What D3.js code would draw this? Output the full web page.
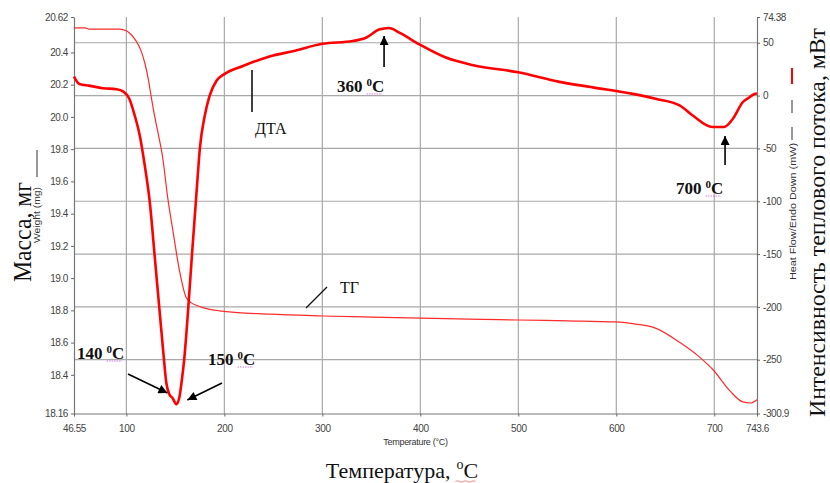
<!DOCTYPE html>
<html><head><meta charset="utf-8">
<script src="https://cdn.jsdelivr.net/npm/d3@7"></script>
<style>body{margin:0;background:#fff}svg{display:block}</style>
</head><body>
<svg id="c" width="830" height="483"></svg>
<script>
// ---- data ----
const tempTicks = [46.55, 100, 200, 300, 400, 500, 600, 700, 743.6];
const tempLabels = ["46.55", "100", "200", "300", "400", "500", "600", "700", "743.6"];
const weightTicks = [18.16, 18.4, 18.6, 18.8, 19.0, 19.2, 19.4, 19.6, 19.8, 20.0, 20.2, 20.4, 20.62];
const weightLabels = ["18.16", "18.4", "18.6", "18.8", "19.0", "19.2", "19.4", "19.6", "19.8", "20.0", "20.2", "20.4", "20.62"];
const heatTicks = [-300.9, -250, -200, -150, -100, -50, 0, 50, 74.38];
const heatLabels = ["-300.9", "-250", "-200", "-150", "-100", "-50", "0", "50", "74.38"];
const gridTemps = [100, 200, 300, 400, 500, 600, 700];
const gridHeats = [-250, -200, -150, -100, -50, 0, 50];

// TG (weight, mg)
const tgTemp =   [46.55, 58, 62, 93, 100, 105, 110, 115, 119, 122.5, 125.5, 129, 132, 137, 142.4, 147.6, 154.4, 161, 166, 172, 178, 195, 246, 300, 350, 400, 450, 500, 550, 600, 620, 640, 665, 685, 699, 716, 729, 737, 743.6];
const tgWeight = [20.552, 20.552, 20.545, 20.545, 20.535, 20.51, 20.47, 20.41, 20.33, 20.23, 20.12, 20.0, 19.91, 19.75, 19.49, 19.29, 19.04, 18.88, 18.848, 18.83, 18.817, 18.797, 18.776, 18.765, 18.758, 18.752, 18.745, 18.74, 18.735, 18.728, 18.715, 18.69, 18.60, 18.51, 18.43, 18.30, 18.232, 18.225, 18.245];

// DTA (heat flow, mW)
const dtaTemp = [46.55, 52, 62, 76, 90, 97, 103, 108.5, 113.6, 118.7, 123.8, 128.9, 134, 137.4, 140.8, 144, 147, 151, 154, 156.5, 159, 161.5, 164, 167, 170, 172.5, 175, 180, 185, 192, 200, 219, 236, 246, 270, 300, 331, 345, 358, 368, 379, 399, 426, 454, 500, 542, 576, 617, 640, 665, 678, 698, 710, 719, 729, 736, 741, 743.6];
const dtaHeat = [18, 11, 9.4, 7, 6, 3.8, -3, -18.8, -37.5, -65.7, -100, -152, -205, -240, -272, -283, -286, -292, -286, -270, -250, -222, -190, -150, -112, -80, -50, -19, 0, 14, 20.3, 28, 34, 37, 42, 49, 51.6, 55, 62.5, 64, 59.4, 48.5, 36, 28.8, 22, 13, 7.8, 1.6, -3, -9.4, -18.8, -29.7, -29.7, -21.9, -6.3, -1.6, 1.6, 2];

// ---- chart ----
const svg = d3.select("#c");
const L = 74, R = 757, T = 17, B = 413.5;
const x = d3.scaleLinear().domain([46.55, 743.6]).range([L, R]);
const yW = d3.scaleLinear().domain([18.16, 20.62]).range([B, T]);
const yH = d3.scaleLinear().domain([-300.9, 74.38]).range([B, T]);

const serif = "'Liberation Serif','Times New Roman',serif";
const sans = "'Liberation Sans',Arial,sans-serif";

// grid
svg.append("g").selectAll("line").data(gridTemps).join("line")
  .attr("x1", d => x(d)).attr("x2", d => x(d)).attr("y1", T).attr("y2", B)
  .attr("stroke", "#a9a9a9").attr("stroke-width", 1.2);
svg.append("g").selectAll("line").data(gridHeats).join("line")
  .attr("x1", L).attr("x2", R).attr("y1", d => yH(d)).attr("y2", d => yH(d))
  .attr("stroke", "#a9a9a9").attr("stroke-width", 1.2);

function styleAxis(g) {
  g.selectAll("path.domain").attr("stroke", "#777").attr("stroke-width", 1.2);
  g.selectAll(".tick line").attr("stroke", "#666");
  g.selectAll("text").attr("font-family", sans).attr("font-size", 10).attr("fill", "#444")
    .attr("letter-spacing", "-0.4px");
}
svg.append("g").attr("transform", `translate(${L},0)`)
  .call(d3.axisLeft(yW).tickValues(weightTicks).tickFormat((d, i) => weightLabels[i]).tickSize(3).tickSizeOuter(0).tickPadding(3))
  .call(styleAxis);
svg.append("g").attr("transform", `translate(${R},0)`)
  .call(d3.axisRight(yH).tickValues(heatTicks).tickFormat((d, i) => heatLabels[i]).tickSize(3).tickSizeOuter(0).tickPadding(3))
  .call(styleAxis);
svg.append("g").attr("transform", `translate(0,${B})`)
  .call(d3.axisBottom(x).tickValues(tempTicks).tickFormat((d, i) => tempLabels[i]).tickSize(3).tickSizeOuter(0).tickPadding(8))
  .call(styleAxis);

// curves
const tgLine = d3.line().x(d => x(d[0])).y(d => yW(d[1])).curve(d3.curveMonotoneX);
const dtaLine = d3.line().x(d => x(d[0])).y(d => yH(d[1])).curve(d3.curveMonotoneX);
svg.append("path").datum(d3.zip(tgTemp, tgWeight)).attr("d", tgLine)
  .attr("fill", "none").attr("stroke", "#ff2a2a").attr("stroke-width", 1.2);
svg.append("path").datum(d3.zip(dtaTemp, dtaHeat)).attr("d", dtaLine)
  .attr("fill", "none").attr("stroke", "#ff0000").attr("stroke-width", 2.6).attr("stroke-linejoin", "round");

// axis titles (small)
svg.append("text").attr("font-family", sans).attr("font-size", 9).attr("fill", "#333")
  .attr("text-anchor", "middle").attr("x", (L + R) / 2).attr("y", 445).attr("letter-spacing", "-0.3px")
  .text("Temperature (°C)");
svg.append("text").attr("font-family", sans).attr("font-size", 9).attr("fill", "#333")
  .attr("text-anchor", "middle").attr("transform", "translate(40,215) rotate(-90)")
  .attr("textLength", 56).attr("lengthAdjust", "spacingAndGlyphs")
  .text("Weight (mg)");
svg.append("line").attr("x1", 37).attr("x2", 37).attr("y1", 150).attr("y2", 177).attr("stroke", "#333").attr("stroke-width", 1);
svg.append("text").attr("font-family", sans).attr("font-size", 9).attr("fill", "#333")
  .attr("text-anchor", "middle").attr("transform", "translate(796,211.5) rotate(-90)")
  .attr("textLength", 137).attr("lengthAdjust", "spacingAndGlyphs")
  .text("Heat Flow/Endo Down (mW)");
svg.append("line").attr("x1", 792).attr("x2", 792).attr("y1", 100).attr("y2", 113).attr("stroke", "#333");
svg.append("line").attr("x1", 792).attr("x2", 792).attr("y1", 127).attr("y2", 140).attr("stroke", "#333");
svg.append("line").attr("x1", 792).attr("x2", 792).attr("y1", 68).attr("y2", 84).attr("stroke", "#ff0000").attr("stroke-width", 2);

// big titles
svg.append("text").attr("font-family", serif).attr("font-size", 26).attr("fill", "#111")
  .attr("text-anchor", "middle").attr("transform", "translate(31,232) rotate(-90)")
  .attr("textLength", 100).attr("lengthAdjust", "spacingAndGlyphs")
  .text("Масса, мг");
svg.append("text").attr("font-family", serif).attr("font-size", 24).attr("fill", "#111")
  .attr("text-anchor", "middle").attr("transform", "translate(825,222.5) rotate(-90)")
  .attr("textLength", 389).attr("lengthAdjust", "spacingAndGlyphs")
  .text("Интенсивность теплового потока, мВт");

// bottom big title with superscript
(function () {
  const g = svg.append("g").attr("font-family", serif).attr("fill", "#111");
  const t1 = g.append("text").attr("font-size", 22).attr("y", 478).text("Температура,");
  const w1 = t1.node().getComputedTextLength();
  const t2 = g.append("text").attr("font-size", 14).attr("y", 469).text("о");
  const w2 = t2.node().getComputedTextLength();
  const t3 = g.append("text").attr("font-size", 22).attr("y", 478).text("С");
  const w3 = t3.node().getComputedTextLength();
  const gap = 6;
  const total = w1 + gap + w2 + w3;
  const x0 = 402 - total / 2;
  t1.attr("x", x0);
  t2.attr("x", x0 + w1 + gap);
  t3.attr("x", x0 + w1 + gap + w2);
  g.append("path").attr("d", `M${x0 + w1 + gap - 1},481.5 q2,-1.5 4,0 t4,0 t4,0 t4,0 t4,0`)
    .attr("fill", "none").attr("stroke", "#ff6060").attr("stroke-width", 0.8);
})();

// annotations
svg.append("defs").append("marker").attr("id", "ah").attr("viewBox", "0 0 10 10")
  .attr("refX", 10).attr("refY", 5).attr("markerWidth", 11).attr("markerHeight", 9)
  .attr("markerUnits", "userSpaceOnUse").attr("orient", "auto")
  .append("path").attr("d", "M0,0 L10,5 L0,10 Z").attr("fill", "#000");

function arrow(x1, y1, x2, y2) {
  svg.append("line").attr("x1", x1).attr("y1", y1).attr("x2", x2).attr("y2", y2)
    .attr("stroke", "#000").attr("stroke-width", 1.6).attr("marker-end", "url(#ah)");
}
function tempLabel(x0, y0, num) {
  const g = svg.append("g").attr("font-family", serif).attr("font-weight", "bold").attr("fill", "#111");
  const t1 = g.append("text").attr("x", x0).attr("y", y0).attr("font-size", 17).text(num);
  const w1 = t1.node().getComputedTextLength() + 4;
  const t2 = g.append("text").attr("x", x0 + w1).attr("y", y0 - 6).attr("font-size", 11).text("0");
  const w2 = t2.node().getComputedTextLength();
  g.append("text").attr("x", x0 + w1 + w2).attr("y", y0).attr("font-size", 17).text("C");
  svg.append("line").attr("x1", x0 + w1).attr("x2", x0 + w1 + w2 + 10).attr("y1", y0 + 2).attr("y2", y0 + 2)
    .attr("stroke", "#d070e0").attr("stroke-width", 0.9).attr("stroke-dasharray", "1.5,1");
}

// 360 °C
arrow(x(363), 67, x(363), 36);
tempLabel(x(363) - 47, 92, "360");
// 700 °C
arrow(x(711), 165, x(711), 136);
tempLabel(x(711) - 49, 194, "700");
// 140 °C
arrow(128, 374, x(145) - 3, 393);
tempLabel(77, 359, "140");
// 150 °C
arrow(222, 383, x(151) + 11, 400);
tempLabel(208, 365, "150");

// ДТА
svg.append("line").attr("x1", 252).attr("x2", 252).attr("y1", 70).attr("y2", 112).attr("stroke", "#111").attr("stroke-width", 1.6);
svg.append("text").attr("font-family", serif).attr("font-size", 16).attr("fill", "#111")
  .attr("x", 255).attr("y", 134).text("ДТА");
// ТГ
svg.append("line").attr("x1", 306).attr("y1", 308).attr("x2", 327).attr("y2", 287).attr("stroke", "#111").attr("stroke-width", 1.3);
svg.append("text").attr("font-family", serif).attr("font-size", 16).attr("fill", "#111")
  .attr("x", 340).attr("y", 293).text("ТГ");
</script>
</body></html>
